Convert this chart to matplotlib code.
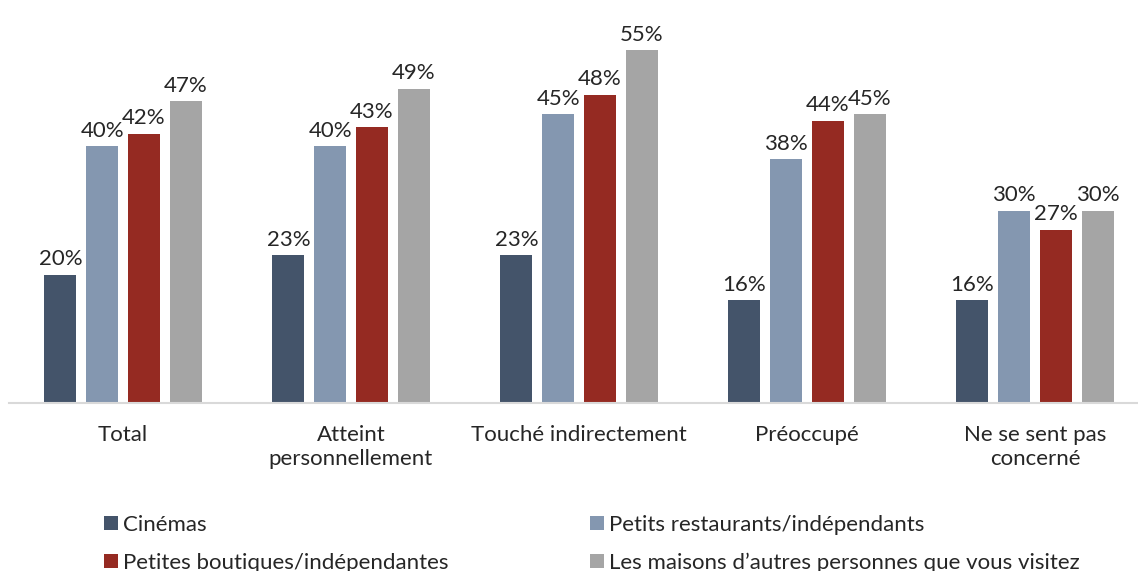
import matplotlib.pyplot as plt
import numpy as np

categories = ["Total", "Atteint\npersonnellement", "Touché indirectement", "Préoccupé", "Ne se sent pas\nconcerné"]
series_names = ["Cinémas", "Petits restaurants/indépendants",
                "Petites boutiques/indépendantes", "Les maisons d\u2019autres personnes que vous visitez"]
cinemas = [20, 23, 23, 16, 16]
restaurants = [40, 40, 45, 38, 30]
boutiques = [42, 43, 48, 44, 27]
maisons = [47, 49, 55, 45, 30]

colors = ["#44546A", "#8497B0", "#952A22", "#A5A5A5"]

plt.rcParams["font.family"] = ["Lato", "DejaVu Sans"]

fig = plt.figure(figsize=(11.38, 5.71), dpi=100)
ax = fig.add_axes([9 / 1138, 168 / 571, 1129 / 1138, 385 / 571])

x = np.arange(len(categories))
width = 0.14
pitch = 0.183
bars = []
for i, (vals, name) in enumerate(zip([cinemas, restaurants, boutiques, maisons], series_names)):
    b = ax.bar(x + (i - 1.5) * pitch, vals, width, color=colors[i], label=name)
    bars.append(b)
    for rect, v in zip(b, vals):
        ax.annotate(f"{v}%", (rect.get_x() + rect.get_width() / 2, v),
                    xytext=(0, 4), textcoords="offset points",
                    ha="center", va="bottom", fontsize=16, color="#262626")

ax.set_xlim(-0.5, -0.5 + 1129 / 228)
ax.set_ylim(0, 60)
ax.set_xticks(x)
ax.set_xticklabels(categories, fontsize=16, color="#262626", linespacing=1.25)
ax.tick_params(axis="x", length=0, pad=16)
ax.set_yticks([])
for s in ["top", "right", "left"]:
    ax.spines[s].set_visible(False)
ax.spines["bottom"].set_color("#D9D9D9")
ax.spines["bottom"].set_linewidth(1.5)

# légende sur deux colonnes, remplie colonne par colonne
order = [0, 2, 1, 3]
fig.legend([bars[i] for i in order], [series_names[i] for i in order],
           ncol=2, loc="upper left", bbox_to_anchor=(93 / 1138, 1 - 504 / 571),
           frameon=False, fontsize=16, handlelength=0.63, handleheight=0.6,
           handletextpad=0.2, columnspacing=6.4, labelspacing=0.8, borderpad=0,
           labelcolor="#262626")

fig.savefig("out.png", dpi=100)
